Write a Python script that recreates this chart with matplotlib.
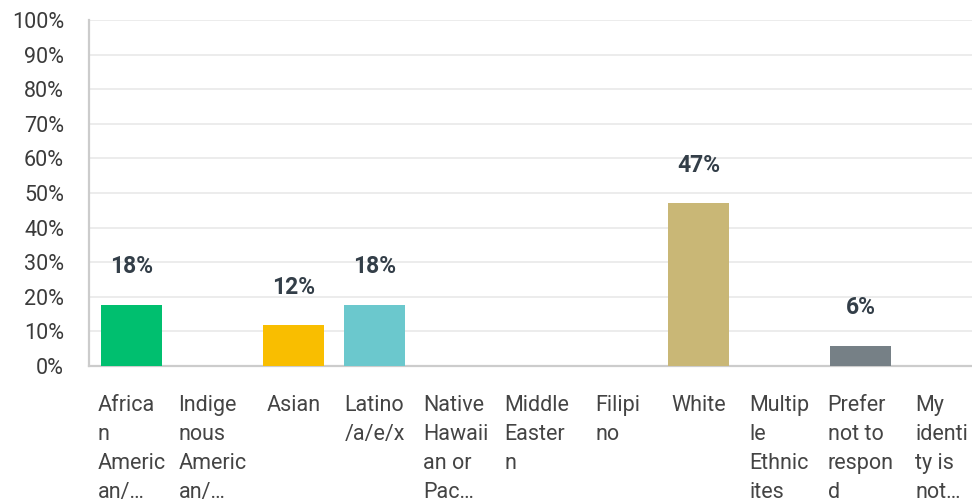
import matplotlib
matplotlib.use("Agg")
import matplotlib.pyplot as plt
import numpy as np

# 数据：各类别占比（%）
categories = [
    "Africa\nn\nAmeric\nan/…",
    "Indige\nnous\nAmeric\nan/…",
    "Asian",
    "Latino\n/a/e/x",
    "Native\nHawaii\nan or\nPac…",
    "Middle\nEaster\nn",
    "Filipi\nno",
    "White",
    "Multip\nle\nEthnic\nites",
    "Prefer\nnot to\nrespon\nd",
    "My\nidenti\nty is\nnot…",
]
values = [17.65, 0, 11.76, 17.65, 0, 0, 0, 47.06, 0, 5.88, 0]
bar_colors = ["#00BF6F", "#507CB6", "#F9BE00", "#6BC8CD", "#FF8B4F", "#7FD7A7",
              "#EFA8B3", "#C9B776", "#A18C6C", "#768086", "#D25F90"]
y_ticks = list(range(0, 101, 10))

plt.rcParams['font.family'] = ['Roboto', 'DejaVu Sans']

fig = plt.figure(figsize=(9.72, 5.0), dpi=100)
ax = fig.add_axes([89 / 972, 1 - 366 / 500, 1 - 89 / 972, 346 / 500])

x = np.arange(len(categories))
ax.bar(x, values, width=61 / 81, color=bar_colors, zorder=3)

# 数值标签（0 不显示）
for xi, v in zip(x, values):
    if v > 0:
        ax.annotate(f"{v:.0f}%", (xi, v), xytext=(0, 38), textcoords="offset pixels",
                    ha="center", va="center", fontsize=16.5, fontweight="bold",
                    color="#333E48")

ax.set_ylim(0, 100)
ax.set_xlim((89 - 131.5) / 81, (972 - 131.5) / 81)
ax.set_yticks(y_ticks)
ax.set_yticklabels([f"{t}%" for t in y_ticks], fontsize=15.5, color="#3b3b3b")
ax.tick_params(axis="y", length=0, pad=18)
ax.yaxis.grid(True, color="#EBEBEB", linewidth=1.3, zorder=0)
ax.set_axisbelow(True)

ax.set_xticks(x)
ax.set_xticklabels(categories, fontsize=15.5, color="#444444", linespacing=1.5,
                   multialignment="left", va="top")
ax.tick_params(axis="x", length=0, pad=21)

for s in ["top", "right"]:
    ax.spines[s].set_visible(False)
for s in ["left", "bottom"]:
    ax.spines[s].set_color("#CCCCCC")
    ax.spines[s].set_linewidth(1.6)

fig.savefig("out.png", dpi=100)
